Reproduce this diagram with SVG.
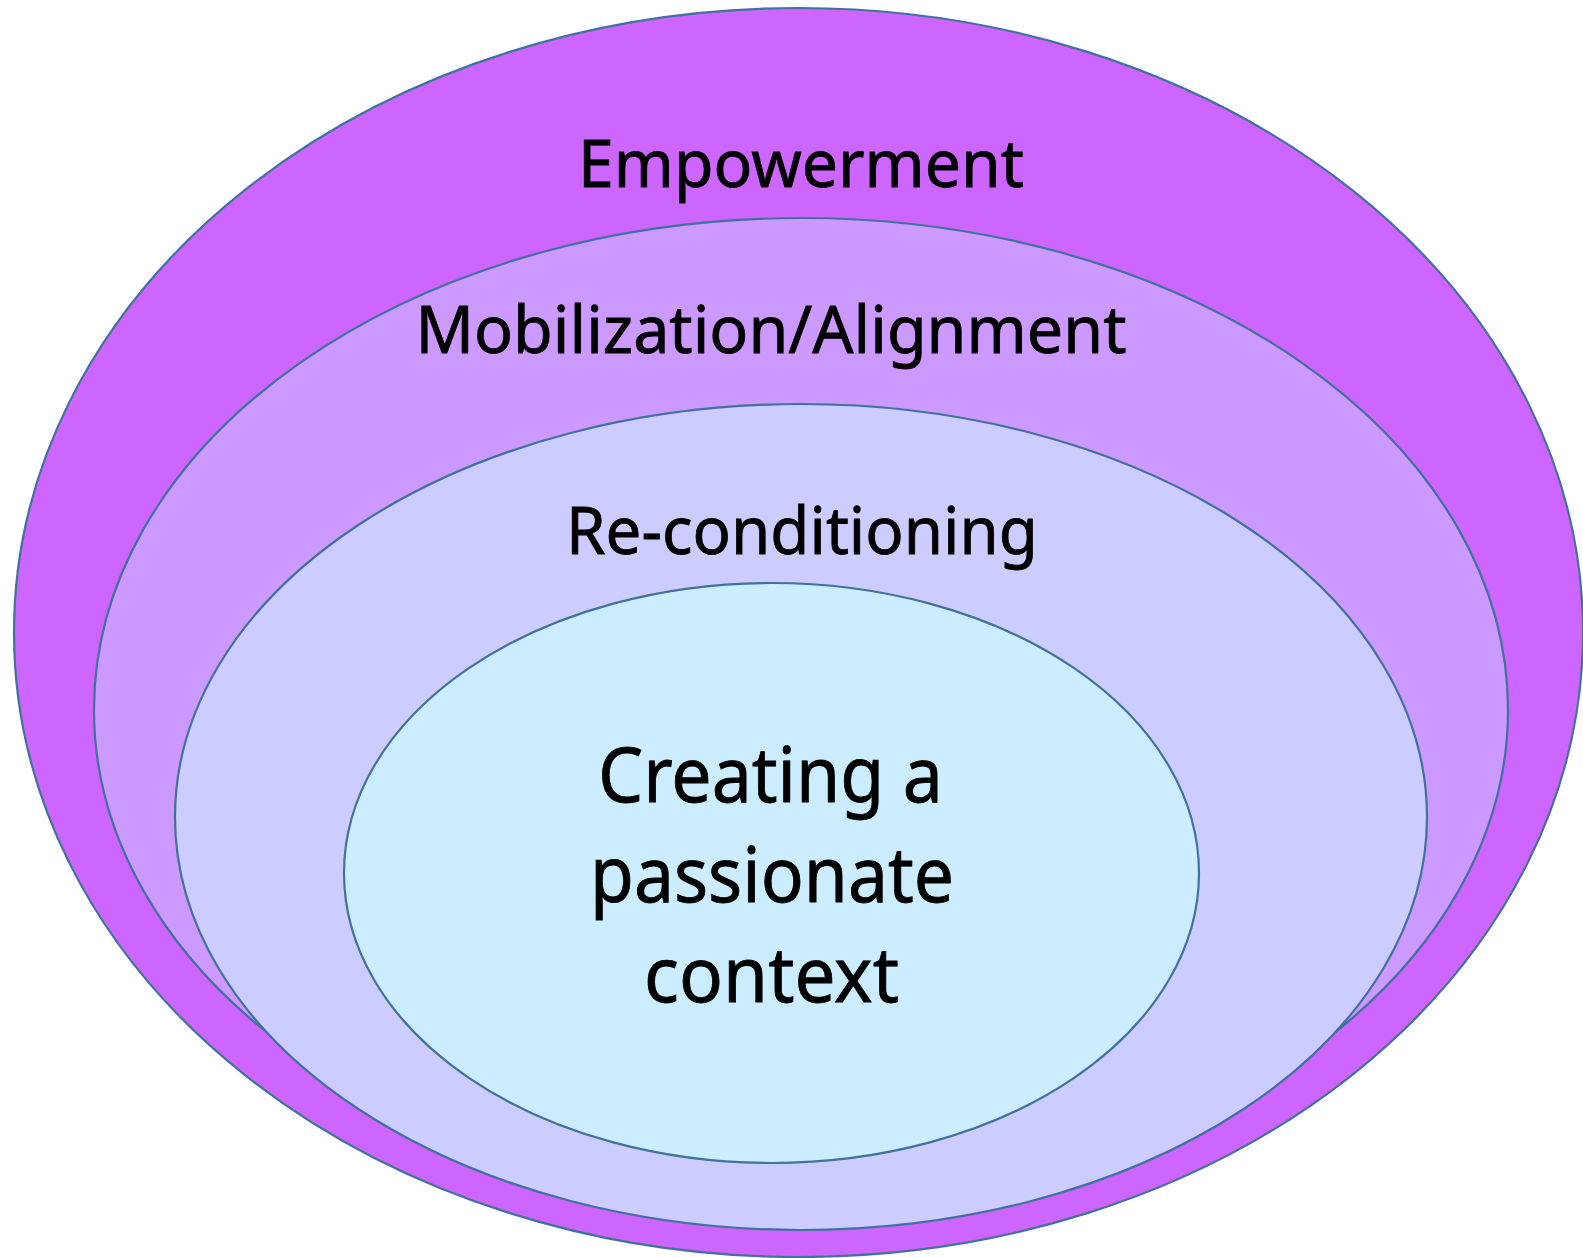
<svg xmlns="http://www.w3.org/2000/svg" width="1583" height="1258" viewBox="0 0 1583 1258">
<style>
  .ring { stroke: #41719C; stroke-width: 2.2; }
  .lbl { font-family: "Noto Sans", "Open Sans", "Liberation Sans", sans-serif; fill: #000000; stroke: #000000; stroke-width: 0.8; text-anchor: middle; }
  .mid { font-size: 66px; }
  .big { font-size: 77px; }
</style>
<rect x="0" y="0" width="1583" height="1258" fill="#FFFFFF"/>
<g id="node-empowerment">
  <ellipse class="ring" cx="798.5" cy="632.5" rx="784.5" ry="624.5" fill="#CC66FF"/>
  <text class="lbl mid" x="801" y="187" textLength="446" lengthAdjust="spacingAndGlyphs">Empowerment</text>
</g>
<g id="node-mobilization">
  <ellipse class="ring" cx="801" cy="710" rx="707" ry="492" fill="#CC99FF"/>
  <text class="lbl mid" x="771" y="353" textLength="711" lengthAdjust="spacingAndGlyphs">Mobilization/Alignment</text>
</g>
<g id="node-reconditioning">
  <ellipse class="ring" cx="801" cy="817" rx="626" ry="413" fill="#CCCCFF"/>
  <text class="lbl mid" x="802" y="554" textLength="472" lengthAdjust="spacingAndGlyphs">Re-conditioning</text>
</g>
<g id="node-context">
  <ellipse class="ring" cx="771.5" cy="873" rx="427.5" ry="290" fill="#CCECFF"/>
  <text class="lbl big" x="770.5" y="802" textLength="345" lengthAdjust="spacingAndGlyphs">Creating a</text>
  <text class="lbl big" x="772" y="902" textLength="364" lengthAdjust="spacingAndGlyphs">passionate</text>
  <text class="lbl big" x="771.5" y="1002" textLength="255" lengthAdjust="spacingAndGlyphs">context</text>
</g>
<g id="connectors"></g>
</svg>
